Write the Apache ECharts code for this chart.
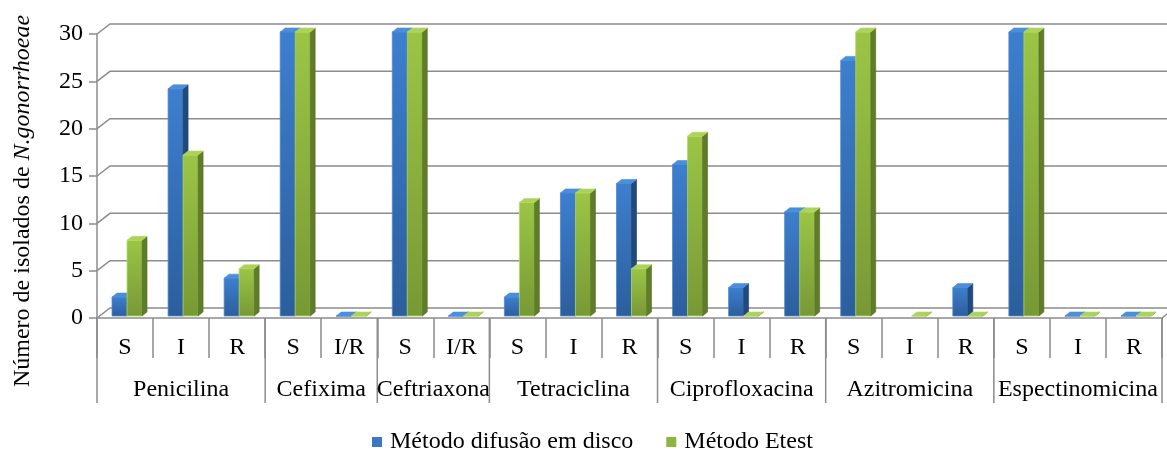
<!DOCTYPE html>
<html>
<head>
<meta charset="utf-8">
<script src="https://cdn.jsdelivr.net/npm/echarts@6/dist/echarts.min.js"></script>
<style>
  html, body { margin: 0; padding: 0; background: #fff; }
  #chart { width: 1167px; height: 453px; }
</style>
</head>
<body>
<div id="chart"></div>
<script>
// Susceptibility categories along the x axis
const categories = ['S', 'I', 'R', 'S', 'I/R', 'S', 'I/R', 'S', 'I', 'R', 'S', 'I', 'R', 'S', 'I', 'R', 'S', 'I', 'R'];
// Antibiotic groups: [first category index, last category index, name]
const groups = [
  [0, 2, 'Penicilina'],
  [3, 4, 'Cefixima'],
  [5, 6, 'Ceftriaxona'],
  [7, 9, 'Tetraciclina'],
  [10, 12, 'Ciprofloxacina'],
  [13, 15, 'Azitromicina'],
  [16, 18, 'Espectinomicina']
];
// Number of isolates per method (null = no value)
const discoValues = [2, 24, 4, 30, 0, 30, 0, 2, 13, 14, 16, 3, 11, 27, null, 3, 30, 0, 0];
const etestValues = [8, 17, 5, 30, 0, 30, 0, 12, 13, 5, 19, 0, 11, 30, 0, 0, 30, 0, 0];
const yTicks = [0, 5, 10, 15, 20, 25, 30];

const FONT = 'Liberation Serif';
const FS = 24;
const LINE = '#8c8c8c';
const DEPTH_X = 13, DEPTH_Y = -10;   // wall depth
const BAR_DX = 5, BAR_DY = -4;       // bar depth

const chart = echarts.init(document.getElementById('chart'));

// 3D-looking column: front face, right side, top face
function bar3d(offsetLeft, width, colors) {
  return function (params, api) {
    const v = api.value(1);
    if (v === null || v === undefined || isNaN(v)) return null;
    const base = api.coord([api.value(0), 0]);
    const top = api.coord([api.value(0), v]);
    const xl = base[0] + offsetLeft;
    const xr = xl + width;
    const yb = base[1] - 2;
    const yt = top[1] - 2;
    return {
      type: 'group',
      children: [
        {
          type: 'rect',
          shape: { x: xl, y: yt, width: width, height: yb - yt },
          style: {
            fill: new echarts.graphic.LinearGradient(0, 0, 0, 1, [
              { offset: 0, color: colors.frontTop },
              { offset: 1, color: colors.frontBottom }
            ]),
            stroke: colors.edge, lineWidth: 0.8
          }
        },
        {
          type: 'polygon',
          shape: { points: [[xr, yt], [xr + BAR_DX, yt + BAR_DY], [xr + BAR_DX, yb + BAR_DY], [xr, yb]] },
          style: { fill: colors.side, stroke: colors.sideEdge, lineWidth: 0.6 }
        },
        {
          type: 'polygon',
          shape: { points: [[xl, yt], [xl + BAR_DX, yt + BAR_DY], [xr + BAR_DX, yt + BAR_DY], [xr, yt]] },
          style: { fill: colors.top, stroke: colors.edge, lineWidth: 0.6 }
        }
      ]
    };
  };
}

const blue = {
  frontTop: '#3d7fcf', frontBottom: '#2c5e9c', side: '#22497a', sideEdge: '#1d3f6a',
  top: '#4a8fdc', edge: '#4a8ad6'
};
const green = {
  frontTop: '#9cc546', frontBottom: '#779935', side: '#5f7c29', sideEdge: '#556f25',
  top: '#acd25a', edge: '#b3da62'
};

chart.setOption({
  animation: false,
  textStyle: { fontFamily: FONT },
  grid: { left: 97, right: 5, top: 34, bottom: 135, containLabel: false },
  legend: {
    bottom: -6,
    left: 367,
    itemWidth: 10,
    itemHeight: 10,
    itemGap: 33,
    icon: 'rect',
    textStyle: { fontFamily: FONT, fontSize: FS, color: '#000', padding: [0, 0, 0, 3] },
    data: ['Método difusão em disco', 'Método Etest']
  },
  xAxis: {
    type: 'category',
    data: categories,
    boundaryGap: true,
    axisLine: { lineStyle: { color: LINE, width: 1.5 } },
    axisTick: { show: true, interval: 0, length: 40, lineStyle: { color: LINE, width: 1.5 } },
    axisLabel: { interval: 0, margin: 18, fontFamily: FONT, fontSize: FS, color: '#000' }
  },
  yAxis: {
    type: 'value',
    min: 0,
    max: 30,
    interval: 5,
    axisLine: { show: true, lineStyle: { color: LINE, width: 1.5 } },
    axisTick: { show: true, length: 8, lineStyle: { color: LINE, width: 1.5 } },
    axisLabel: { margin: 14, fontFamily: FONT, fontSize: FS, color: '#000' },
    splitLine: { show: false }
  },
  graphic: [{
    type: 'text',
    x: 23,
    y: 201,
    rotation: Math.PI / 2,
    style: {
      text: '{n|Número de isolados de }{i|N.gonorrhoeae}',
      align: 'center',
      verticalAlign: 'middle',
      rich: {
        n: { fontFamily: FONT, fontSize: FS, fill: '#000' },
        i: { fontFamily: FONT, fontSize: FS, fontStyle: 'italic', fill: '#000' }
      }
    }
  }],
  series: [
    {
      // back wall gridlines with their diagonal joins to the front axis
      type: 'custom',
      name: 'wall',
      silent: true,
      z: 1,
      data: yTicks.map(v => [0, v]),
      renderItem: function (params, api) {
        const cs = params.coordSys;
        const y = api.coord([0, api.value(1)])[1];
        const left = cs.x;
        const right = cs.x + cs.width;
        const children = [{
          type: 'polyline',
          shape: { points: [[left, y], [left + DEPTH_X, y + DEPTH_Y], [right + 30, y + DEPTH_Y]] },
          style: { stroke: LINE, lineWidth: 1.5, fill: null }
        }];
        if (api.value(1) === 0) {
          children.push({
            type: 'line',
            shape: { x1: right, y1: y, x2: right + DEPTH_X, y2: y + DEPTH_Y },
            style: { stroke: LINE, lineWidth: 1.5 }
          });
        }
        return { type: 'group', children: children };
      }
    },
    {
      // antibiotic group separators and names beneath the category labels
      type: 'custom',
      name: 'groups',
      silent: true,
      z: 1,
      data: groups.map(g => [g[0], g[1], g[2]]),
      renderItem: function (params, api) {
        const g = groups[params.dataIndex];
        const half = api.size([1, 0])[0] / 2;
        const x0 = api.coord([g[0], 0])[0] - half;
        const x1 = api.coord([g[1], 0])[0] + half;
        const y = api.coord([g[0], 0])[1];
        const children = [
          { type: 'line', shape: { x1: x0, y1: y, x2: x0, y2: y + 85 }, style: { stroke: LINE, lineWidth: 1.5 } },
          {
            type: 'text',
            x: (x0 + x1) / 2,
            y: y + 72,
            style: { text: g[2], align: 'center', verticalAlign: 'middle', fontFamily: FONT, fontSize: FS, fill: '#000' }
          }
        ];
        if (params.dataIndex === groups.length - 1) {
          children.push({ type: 'line', shape: { x1: x1, y1: y, x2: x1, y2: y + 85 }, style: { stroke: LINE, lineWidth: 1.5 } });
        }
        return { type: 'group', children: children };
      }
    },
    {
      type: 'custom',
      name: 'Método difusão em disco',
      z: 3,
      itemStyle: { color: '#3a78c4' },
      data: discoValues.map((v, i) => [i, v === null ? '-' : v]),
      renderItem: bar3d(-13, 15, blue)
    },
    {
      type: 'custom',
      name: 'Método Etest',
      z: 4,
      itemStyle: { color: '#8db53f' },
      data: etestValues.map((v, i) => [i, v]),
      renderItem: bar3d(2, 15, green)
    }
  ]
});
</script>
</body>
</html>
